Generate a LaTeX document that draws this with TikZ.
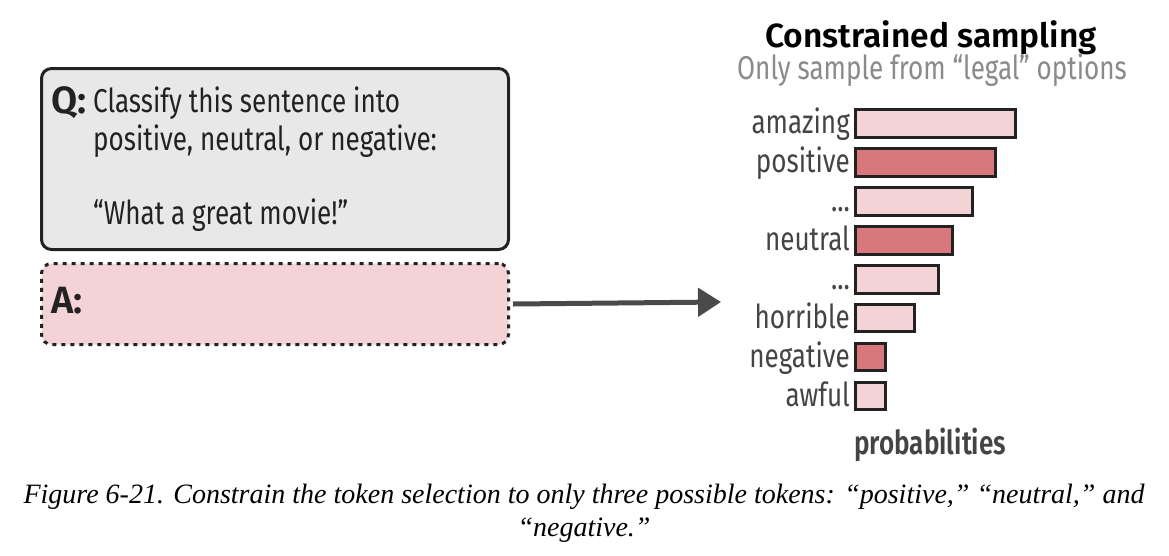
\documentclass[tikz,border=0pt]{standalone}
\usepackage{fontspec}
\setmainfont{Liberation Serif}
\newfontfamily\dfont[FakeStretch=0.79]{Fira Sans}
\newfontfamily\dfontb[FakeStretch=0.79]{Fira Sans SemiBold}
\newfontfamily\dfontw{Fira Sans SemiBold}
\usetikzlibrary{arrows.meta}
\definecolor{qfill}{HTML}{E8E8E8}
\definecolor{pinkl}{HTML}{F3D3D5}
\definecolor{pinkd}{HTML}{D9787C}
\definecolor{edge}{HTML}{222222}
\definecolor{lab}{HTML}{444444}
\definecolor{arr}{HTML}{4A4A4A}
\definecolor{sub}{HTML}{8A8A8A}
\tikzset{
  qbox/.style={draw=edge, line width=3pt, fill=qfill, rounded corners=10pt},
  abox/.style={draw=edge, line width=3pt, fill=pinkl, rounded corners=10pt, dash pattern=on 4pt off 5pt},
  barl/.style={draw=edge, line width=3pt, fill=pinkl},
  bard/.style={draw=edge, line width=3pt, fill=pinkd},
  tok/.style={anchor=base east, inner sep=0pt, font=\dfont\fontsize{33}{36}\selectfont, text=lab},
  qtxt/.style={anchor=base west, inner sep=0pt, font=\dfont\fontsize{33}{38}\selectfont, text=edge},
  qlab/.style={anchor=base west, inner sep=0pt, font=\dfontw\fontsize{38}{40}\selectfont, text=edge},
  captxt/.style={inner sep=0pt, anchor=base, font=\itshape\fontsize{28}{30}\selectfont},
}
\begin{document}
\begin{tikzpicture}[x=1pt,y=-1pt]
\useasboundingbox[fill=white] (0,0) rectangle (1169,555);
% Q box
\node[qbox, minimum width=467pt, minimum height=181pt, anchor=north west] (q) at (40,67) {};
\node[qlab] (ql) at (51,113) {Q:};
\node[qtxt] (q1) at (93,112) {Classify this sentence into};
\node[qtxt] (q2) at (93,150) {positive, neutral, or negative:};
\node[qtxt] (q3) at (93,224) {“What a great movie!”};
% A box
\node[abox, minimum width=467pt, minimum height=81pt, anchor=north west] (a) at (40,262) {};
\node[qlab] (al) at (51,313) {A:};
% arrow
\coordinate (tip) at (721,302);
\draw[draw=arr, line width=5pt, -{Triangle[length=23pt,width=28pt]}] (a.east) ++(3pt,0) -- (tip);
% title
\node[inner sep=0pt, font=\dfontw\fontsize{33.5}{36}\selectfont, text=black, anchor=base] (title) at (931,47) {Constrained sampling};
\node[inner sep=0pt, font=\dfont\fontsize{33}{36}\selectfont, text=sub, anchor=base] (subt) at (932,79) {Only sample from “legal” options};
% bars
\draw[barl] (855,109) rectangle (1015,137);
\draw[bard] (855,148) rectangle (995,176);
\draw[barl] (855,187) rectangle (972,215);
\draw[bard] (855,226) rectangle (952,254);
\draw[barl] (855,265) rectangle (938,293);
\draw[barl] (855,304) rectangle (914,331);
\draw[bard] (855,343) rectangle (885,370);
\draw[barl] (855,382) rectangle (885,409);
\node[tok] (t1) at (850,133) {amazing};
\node[tok] (t2) at (850,172) {positive};
\node[tok] (t3) at (850,211) {...};
\node[tok] (t4) at (850,250) {neutral};
\node[tok] (t5) at (850,289) {...};
\node[tok] (t6) at (850,328) {horrible};
\node[tok] (t7) at (850,367) {negative};
\node[tok] (t8) at (850,406) {awful};
\node[inner sep=0pt, font=\dfontb\fontsize{33}{36}\selectfont, text=lab, anchor=base west] (prob) at (854,454) {probabilities};
% caption
\node[captxt] (c1) at (584,503) {Figure 6-21. Constrain the token selection to only three possible tokens: “positive,” “neutral,” and};
\node[captxt] (c2) at (584,536) {“negative.”};
\end{tikzpicture}
\end{document}
